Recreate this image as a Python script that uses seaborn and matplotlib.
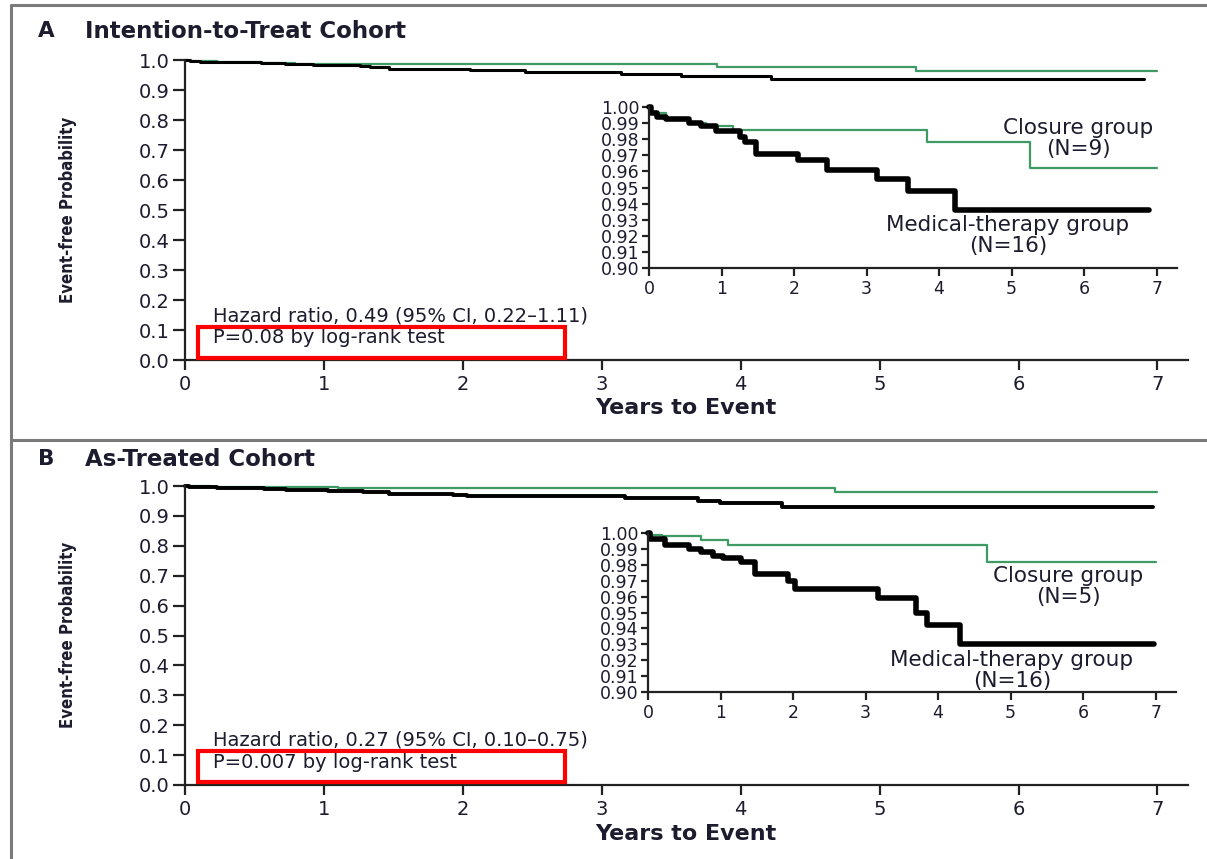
import matplotlib
matplotlib.use("Agg")
import matplotlib.pyplot as plt
from matplotlib.patches import Rectangle
from matplotlib.lines import Line2D
import pandas as pd
import seaborn as sns

# ---- Kaplan-Meier step data (years, event-free probability) ----
itt_closure_years = [0, 0.03, 0.23, 0.55, 0.79, 1.16, 3.83, 5.26, 7.0]
itt_closure_surv = [1.0, 0.996, 0.992, 0.990, 0.988, 0.986, 0.978, 0.962, 0.962]

itt_medical_years = [0, 0.034, 0.11, 0.23, 0.55, 0.72, 0.92, 1.26, 1.33, 1.47,
                     2.05, 2.45, 3.14, 3.57, 4.22, 6.9]
itt_medical_surv = [1.0, 0.996, 0.994, 0.9925, 0.990, 0.988, 0.985, 0.9815, 0.978,
                    0.9705, 0.967, 0.961, 0.955, 0.948, 0.936, 0.936]

at_closure_years = [0, 0.02, 0.19, 0.73, 1.1, 4.68, 7.0]
at_closure_surv = [1.0, 0.999, 0.998, 0.9955, 0.9925, 0.9815, 0.9815]

at_medical_years = [0, 0.027, 0.23, 0.57, 0.73, 0.90, 1.03, 1.28, 1.47, 1.93,
                    2.03, 3.17, 3.69, 3.85, 4.30, 6.97]
at_medical_surv = [1.0, 0.996, 0.9925, 0.990, 0.988, 0.9855, 0.984, 0.9815, 0.974,
                   0.970, 0.965, 0.959, 0.950, 0.942, 0.930, 0.930]

main_yticks = [0.0, 0.1, 0.2, 0.3, 0.4, 0.5, 0.6, 0.7, 0.8, 0.9, 1.0]
inset_yticks = [0.90, 0.91, 0.92, 0.93, 0.94, 0.95, 0.96, 0.97, 0.98, 0.99, 1.00]
xticks = [0, 1, 2, 3, 4, 5, 6, 7]

panel_letters = ["A", "B"]
panel_titles = ["Intention-to-Treat Cohort", "As-Treated Cohort"]
hazard_texts = ["Hazard ratio, 0.49 (95% CI, 0.22\u20131.11)",
                "Hazard ratio, 0.27 (95% CI, 0.10\u20130.75)"]
p_texts = ["P=0.08 by log-rank test", "P=0.007 by log-rank test"]
closure_n = ["(N=9)", "(N=5)"]
medical_n = ["(N=16)", "(N=16)"]

# ---- styling ----
sns.set_style("ticks")
plt.rcParams["font.family"] = ["DejaVu Sans"]
TEXT = "#1c1c2e"
GREEN = "#3f9a63"
plt.rcParams["text.color"] = TEXT
plt.rcParams["axes.labelcolor"] = TEXT
plt.rcParams["xtick.color"] = "#222222"
plt.rcParams["ytick.color"] = "#222222"
plt.rcParams["xtick.labelcolor"] = TEXT
plt.rcParams["ytick.labelcolor"] = TEXT

W, H = 1207, 859
fig = plt.figure(figsize=(W / 100, H / 100), dpi=100)


def fx(px):
    return px / W


def fy(py):
    return 1 - py / H


def box(left, top, right, bottom):
    return [fx(left), fy(bottom), fx(right) - fx(left), fy(top) - fy(bottom)]


def km(ax, years, surv, color, lw):
    d = pd.DataFrame({"years": years, "surv": surv})
    sns.lineplot(data=d, x="years", y="surv", ax=ax, color=color, linewidth=lw,
                 drawstyle="steps-post", estimator=None, sort=False,
                 legend=False, clip_on=False)


def style_axes(ax, tick_len, fs):
    sns.despine(ax=ax)
    for s in ("left", "bottom"):
        ax.spines[s].set_linewidth(1.6)
        ax.spines[s].set_color("#222222")
    ax.tick_params(axis="both", length=tick_len, width=1.6, labelsize=fs, pad=2)
    ax.set_xlabel("")
    ax.set_ylabel("")


# panel geometry in pixels: (left, top, right, bottom)
main_boxes = [(185, 60, 1188, 360), (185, 486, 1188, 785)]
inset_boxes = [(649, 107, 1177, 268), (648, 533, 1176, 692)]
series = [
    (itt_closure_years, itt_closure_surv, itt_medical_years, itt_medical_surv),
    (at_closure_years, at_closure_surv, at_medical_years, at_medical_surv),
]
title_y = [31, 459]
xlabel_y = [408, 834]
ylabel_y = [210, 635]
closure_lbl = [(1078, 128), (1068, 576)]
medical_lbl = [(1008, 225), (1012, 660)]
main_black_lw = [2.2, 2.8]
hazard_base = [321, 746]
p_base = [343, 768]
red_rows = [(327, 358), (751, 782)]

for i in range(2):
    cy, cs, my, ms = series[i]
    left, top, right, bot = main_boxes[i]
    span = bot - top
    ax = fig.add_axes(box(*main_boxes[i]))
    km(ax, cy, cs, GREEN, 1.6)
    km(ax, my, ms, "black", main_black_lw[i])
    ax.set_xlim(0, 7.22)
    ax.set_ylim(0, 1.0)
    ax.set_xticks(xticks)
    ax.set_yticks(main_yticks)
    ax.set_yticklabels([f"{v:.1f}" for v in main_yticks])
    style_axes(ax, 9, 14)
    ax.tick_params(axis="x", length=7, pad=4)

    # statistics annotation with red highlight box
    ax.text(0.2, (bot - hazard_base[i]) / span, hazard_texts[i], fontsize=14,
            va="baseline", ha="left", color=TEXT)
    ax.text(0.2, (bot - p_base[i]) / span, p_texts[i], fontsize=14,
            va="baseline", ha="left", color=TEXT)
    x0 = (198 - 185) / 138.9
    x1 = (565 - 185) / 138.9
    rtop, rbot = red_rows[i]
    y0 = (bot - rbot) / span
    y1 = (bot - rtop) / span
    ax.add_patch(Rectangle((x0, y0), x1 - x0, y1 - y0, fill=False,
                           edgecolor="#ff0000", linewidth=3, clip_on=False, zorder=5))

    # inset zoom
    ins = fig.add_axes(box(*inset_boxes[i]))
    ins.set_facecolor("white")
    km(ins, cy, cs, GREEN, 1.6)
    km(ins, my, ms, "black", 4.0)
    ins.set_xlim(0, 7.28)
    ins.set_ylim(0.90, 1.00)
    ins.set_xticks(xticks)
    ins.set_yticks(inset_yticks)
    ins.set_yticklabels([f"{v:.2f}" for v in inset_yticks])
    style_axes(ins, 5, 12.5)
    ins.tick_params(axis="x", length=6, pad=3)

    fig.text(fx(closure_lbl[i][0]), fy(closure_lbl[i][1]), "Closure group",
             fontsize=15.5, ha="center", va="center")
    fig.text(fx(closure_lbl[i][0]), fy(closure_lbl[i][1] + 21), closure_n[i],
             fontsize=15.5, ha="center", va="center")
    fig.text(fx(medical_lbl[i][0]), fy(medical_lbl[i][1]), "Medical-therapy group",
             fontsize=15.5, ha="center", va="center")
    fig.text(fx(medical_lbl[i][0]), fy(medical_lbl[i][1] + 21), medical_n[i],
             fontsize=15.5, ha="center", va="center")

    # titles and axis labels
    fig.text(fx(38), fy(title_y[i]), panel_letters[i], fontsize=15.5,
             fontweight="bold", ha="left", va="center")
    fig.text(fx(85), fy(title_y[i]), panel_titles[i], fontsize=16.5,
             fontweight="bold", ha="left", va="center")
    fig.text(fx(686), fy(xlabel_y[i]), "Years to Event", fontsize=16,
             fontweight="bold", ha="center", va="center")
    fig.text(fx(68), fy(ylabel_y[i]), "Event-free Probability", fontsize=12,
             fontstretch="condensed", fontweight="bold", rotation=90,
             ha="center", va="center")

# outer panel frame
frame_kw = dict(transform=fig.transFigure, color="#7a7a7a", linewidth=2.2)
fig.add_artist(Line2D([fx(11), 1], [fy(5), fy(5)], **frame_kw))
fig.add_artist(Line2D([fx(11), 1], [fy(440), fy(440)], **frame_kw))
fig.add_artist(Line2D([fx(11), fx(11)], [fy(5), 0], **frame_kw))

fig.savefig("out.png", dpi=100, facecolor="white")
